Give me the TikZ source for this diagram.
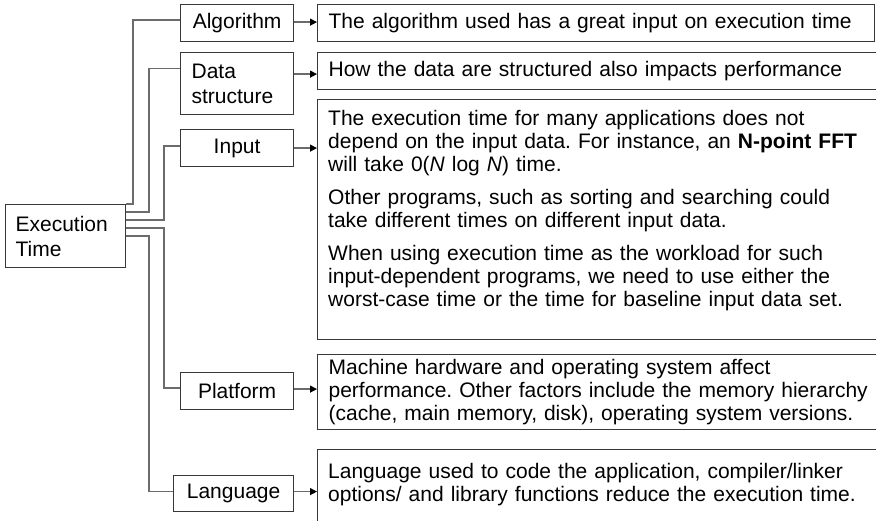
\documentclass[tikz,border=0pt]{standalone}
\usepackage{fontspec}
\setmainfont{Liberation Sans}
\usetikzlibrary{arrows.meta,calc}
\definecolor{boxc}{gray}{0.22}
\definecolor{linec}{gray}{0.42}
\frenchspacing
\begin{document}
\begin{tikzpicture}[x=1pt,y=-1pt,
  box/.style={draw=boxc, line width=1.2pt, inner sep=0pt, font=\fontsize{21}{25}\selectfont},
  lbl/.style={box, anchor=north west, minimum width=113pt, minimum height=37pt, align=center},
  desc/.style={box, anchor=north west, align=left, inner xsep=11pt, inner ysep=0pt, text width=578pt, minimum width=600pt, font=\fontsize{21}{23}\selectfont},
  dtext/.style={anchor=north west, align=left, inner sep=0pt, text width=560pt, font=\fontsize{21}{23}\selectfont},
  conn/.style={draw=linec, line width=1.2pt},
  arr/.style={conn, -{Triangle[length=7pt,width=7pt,color=black]}}
]
\useasboundingbox (0,0) rectangle (876,521);
\clip (0,0) rectangle (876,521);

% left node
\node[box, anchor=north west, minimum width=120pt, minimum height=63pt, text width=100pt, inner xsep=10pt, align=left] (exec) at (5,204) {Execution\\Time};

% category nodes
\node[lbl] (alg) at (180,4) {Algorithm};
\node[box, anchor=north west, minimum width=113pt, minimum height=62pt, text width=91pt, inner xsep=11pt, align=left] (ds) at (180,52) {Data\\structure};
\node[lbl] (inp) at (180,129) {Input};
\node[lbl] (plat) at (180,372) {Platform};
\node[lbl, minimum width=120pt, minimum height=36pt] (lang) at (173,475) {Language};

% description boxes
\node[desc, minimum width=557pt, text width=535pt, minimum height=37pt] (d1) at (317,4) {The algorithm used has a great input on execution time};
\node[desc, minimum height=37pt] (d2) at (317,52) {How the data are structured also impacts performance};
\node[desc, minimum height=240pt] (d3) at (317,99) {};
\node[dtext] (t3) at ([xshift=11pt,yshift=-11pt]d3.north west) {The execution time for many applications does not\\
depend on the input data. For instance, an \textbf{N-point FFT}\\
will take 0(\textit{N} log \textit{N}) time.\\[10pt]
Other programs, such as sorting and searching could\\
take different times on different input data.\\[10pt]
When using execution time as the workload for such\\
input-dependent programs, we need to use either the\\
worst-case time or the time for baseline input data set.};
\node[desc, minimum height=75pt] (d4) at (317,354) {Machine hardware and operating system affect\\
performance. Other factors include the memory hierarchy\\
(cache, main memory, disk), operating system versions.};
\node[box, anchor=north west, minimum width=600pt, minimum height=100pt] (d5) at (317,449) {};
\node[dtext] (t5) at ([xshift=11pt,yshift=-14pt]d5.north west) {Language used to code the application, compiler/linker\\
options/ and library functions reduce the execution time.};

% connectors from Execution Time
\coordinate (e1) at (exec.north east);
\coordinate (e2) at ([yshift=-8pt]exec.north east);
\coordinate (e3) at ([yshift=-16pt]exec.north east);
\coordinate (e4) at ([yshift=-24pt]exec.north east);
\coordinate (e5) at ([yshift=-32pt]exec.north east);
\draw[conn] (e1) -| ([xshift=-47pt,yshift=3pt]alg.west) -- ([yshift=3pt]alg.west);
\draw[conn] (e2) -| ([xshift=-31pt,yshift=15pt]ds.west) -- ([yshift=15pt]ds.west);
\draw[conn] (e3) -| ([xshift=-16pt,yshift=2pt]inp.west) -- ([yshift=2pt]inp.west);
\draw[conn] (e4) -| ([xshift=-16pt,yshift=3pt]plat.west) -- ([yshift=3pt]plat.west);
\draw[conn] (e5) -| ([xshift=-24pt,yshift=2pt]lang.west) -- ([yshift=2pt]lang.west);

% arrows to descriptions
\draw[arr] ([yshift=1pt]alg.east) -- ([yshift=1pt]alg.east -| d1.west);
\draw[arr] ([yshift=-3pt]ds.east |- d2.west) -- ([yshift=-3pt]d2.west);
\draw[arr] (inp.east) -- (inp.east -| d3.west);
\draw[arr] ([yshift=2pt]plat.east) -- ([yshift=2pt]plat.east -| d4.west);
\draw[arr] ([yshift=2pt]lang.east) -- ([yshift=2pt]lang.east -| d5.west);
\end{tikzpicture}
\end{document}
